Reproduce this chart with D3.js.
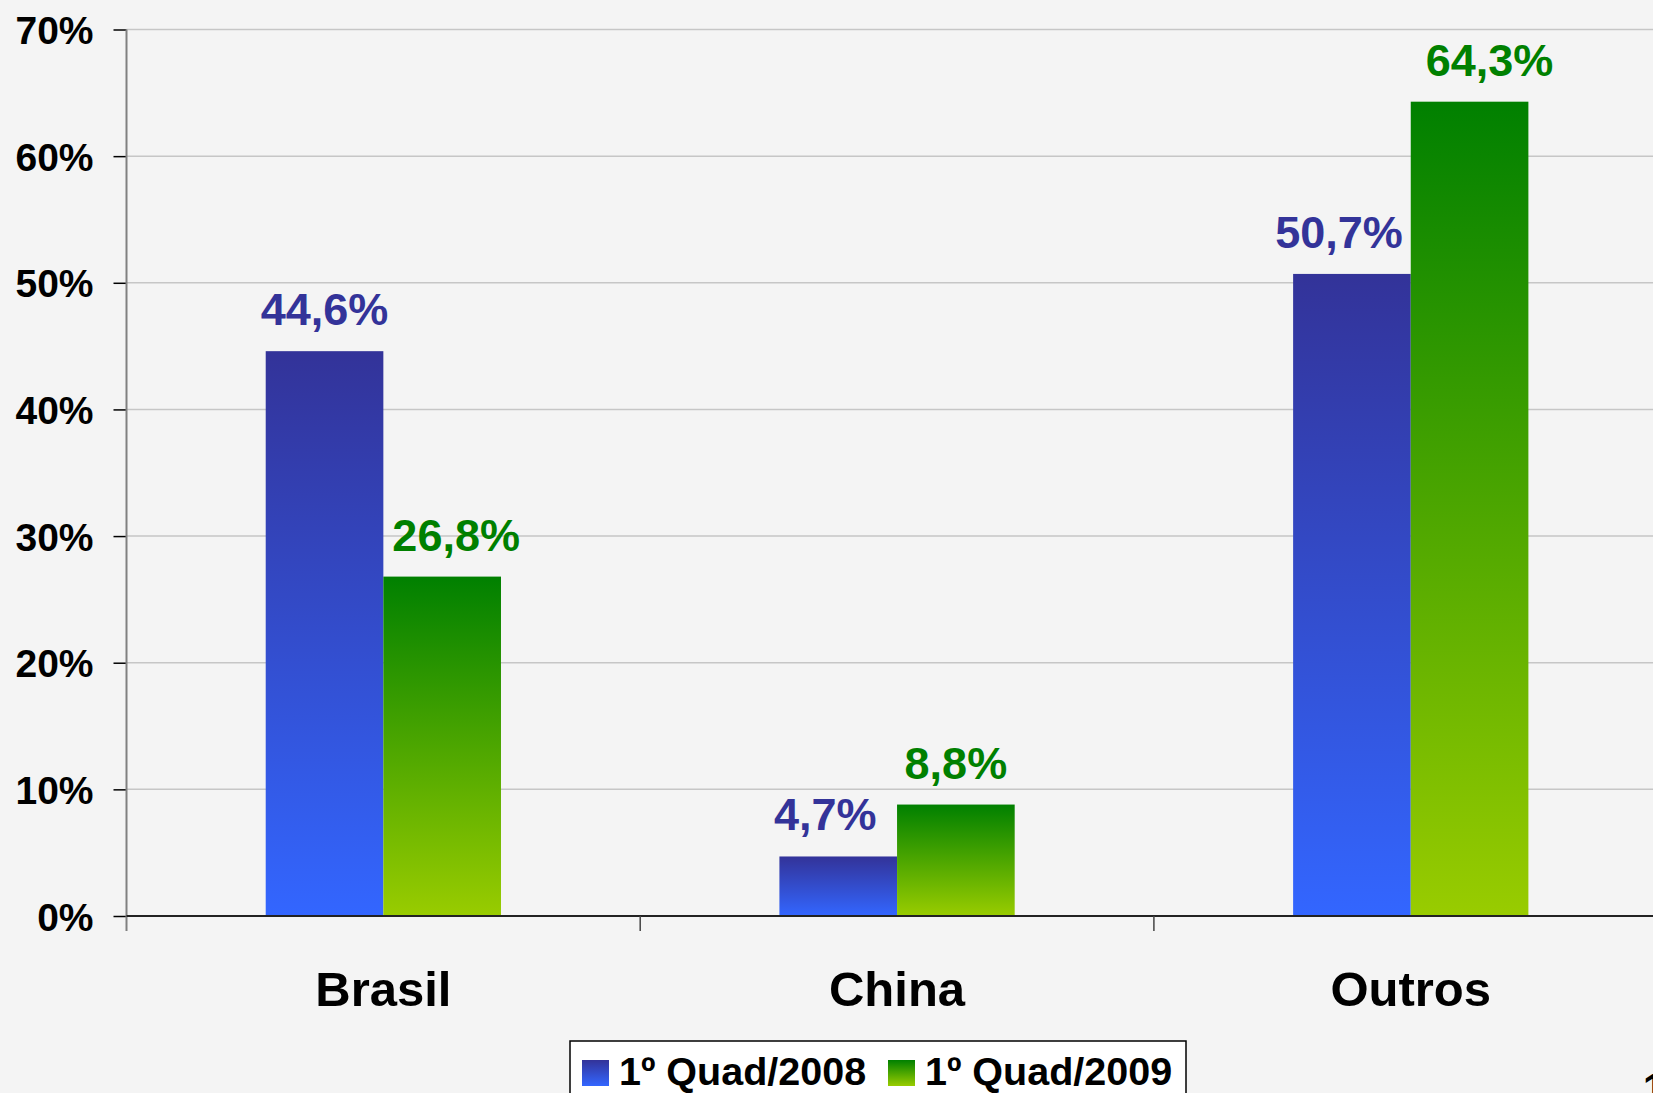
<!DOCTYPE html>
<html>
<head>
<meta charset="utf-8">
<script src="https://cdn.jsdelivr.net/npm/d3@7/dist/d3.min.js"></script>
<style>
  html, body { margin: 0; padding: 0; background: #f4f4f4; overflow: hidden; }
  svg { display: block; }
  text { font-family: "Liberation Sans", Arial, sans-serif; font-weight: bold; }
</style>
</head>
<body>
<div id="chart"></div>
<script>
// Data
const categories = ["Brasil", "China", "Outros"];
const series = ["1º Quad/2008", "1º Quad/2009"];
const values2008 = [44.6, 4.7, 50.7];
const values2009 = [26.8, 8.8, 64.3];
const yTicks = [0, 10, 20, 30, 40, 50, 60, 70];

const width = 1653;
const height = 1093;

const svg = d3.select('#chart')
    .append('svg')
    .attr('width', width)
    .attr('height', height)
    .style('background-color', '#f4f4f4');

// Gradients, one per series (top dark -> bottom bright)
const defs = svg.append('defs');
const gradStops = [
    ['grad2008', '#333399', '#3366ff'],
    ['grad2009', '#008000', '#99cc00']
];
gradStops.forEach(([id, top, bottom]) => {
    const g = defs.append('linearGradient')
        .attr('id', id)
        .attr('x1', 0).attr('y1', 0)
        .attr('x2', 0).attr('y2', 1);
    g.append('stop').attr('offset', '0%').attr('stop-color', top);
    g.append('stop').attr('offset', '100%').attr('stop-color', bottom);
});
const fills = ['url(#grad2008)', 'url(#grad2009)'];
const labelColors = ['#333399', '#008000'];

// Scales
const plotLeft = 126.5;
const plotTop = 29.5;
const plotBottom = 916;
const step = 513.7;

const x0 = d3.scaleBand()
    .domain(categories)
    .range([plotLeft, plotLeft + step * categories.length])
    .padding(0);

const groupW = x0.bandwidth() * 0.458;
const x1 = d3.scaleBand()
    .domain(series)
    .range([(x0.bandwidth() - groupW) / 2, (x0.bandwidth() + groupW) / 2])
    .padding(0);

const y = d3.scaleLinear()
    .domain([0, 70])
    .range([plotBottom, plotTop]);

const fmt = d3.formatLocale({decimal: ",", thousands: ".", grouping: [3], currency: ["R$", ""]}).format(".1f");

// Gridlines
svg.append('g')
    .selectAll('line')
    .data(yTicks.filter(d => d > 0))
    .enter()
    .append('line')
    .attr('x1', plotLeft)
    .attr('x2', width)
    .attr('y1', d => y(d))
    .attr('y2', d => y(d))
    .style('stroke', '#c6c6c6')
    .style('stroke-width', 1.5);

// Y axis
const yAxis = svg.append('g')
    .attr('transform', `translate(${plotLeft},0)`)
    .call(d3.axisLeft(y).tickValues(yTicks).tickSize(13).tickPadding(20).tickFormat(d => d + '%'));
yAxis.select('.domain').remove();
yAxis.selectAll('.tick line').style('stroke', '#000').style('stroke-width', 1.5);
yAxis.selectAll('.tick text')
    .style('font-size', '39px')
    .style('fill', '#000')
    .attr('dy', '0.36em');

svg.append('line')
    .attr('x1', plotLeft).attr('x2', plotLeft)
    .attr('y1', plotTop).attr('y2', plotBottom + 15)
    .style('stroke', '#808080')
    .style('stroke-width', 2);

// Bars
const barData = [];
categories.forEach((c, i) => {
    barData.push({cat: c, s: 0, v: values2008[i], other: values2009[i]});
    barData.push({cat: c, s: 1, v: values2009[i], other: values2008[i]});
});

svg.append('g')
    .selectAll('rect')
    .data(barData)
    .enter()
    .append('rect')
    .attr('x', d => x0(d.cat) + x1(series[d.s]))
    .attr('width', x1.bandwidth())
    .attr('y', d => y(d.v))
    .attr('height', d => y(0) - y(d.v))
    .style('fill', d => fills[d.s]);

// Value labels - nudged away from a taller neighbour bar so they don't touch it
function labelShift(d) {
    if (d.other > d.v) return d.s === 0 ? -13 : 14;
    if (d.s === 1 && d.v > 60) return 20;
    return 0;
}

svg.append('g')
    .selectAll('text')
    .data(barData)
    .enter()
    .append('text')
    .attr('x', d => x0(d.cat) + x1(series[d.s]) + x1.bandwidth() / 2 + labelShift(d))
    .attr('y', d => y(d.v) - 26)
    .attr('text-anchor', 'middle')
    .style('font-size', '45px')
    .style('fill', d => labelColors[d.s])
    .text(d => fmt(d.v) + '%');

// X axis line and category ticks
svg.append('line')
    .attr('x1', plotLeft).attr('x2', width)
    .attr('y1', y(0)).attr('y2', y(0))
    .style('stroke', '#222')
    .style('stroke-width', 2);

svg.append('g')
    .selectAll('line')
    .data(categories.slice(1))
    .enter()
    .append('line')
    .attr('x1', d => x0(d)).attr('x2', d => x0(d))
    .attr('y1', y(0)).attr('y2', y(0) + 15)
    .style('stroke', '#444')
    .style('stroke-width', 1.5);

// Category labels
svg.append('g')
    .selectAll('text')
    .data(categories)
    .enter()
    .append('text')
    .attr('x', d => x0(d) + x0.bandwidth() / 2)
    .attr('y', 1006)
    .attr('text-anchor', 'middle')
    .style('font-size', '49px')
    .style('fill', '#000')
    .text(d => d);

// Legend
const legend = svg.append('g');
legend.append('rect')
    .attr('x', 570).attr('y', 1041)
    .attr('width', 616).attr('height', 80)
    .style('fill', '#fff')
    .style('stroke', '#000')
    .style('stroke-width', 1.5);

const legendX = [582, 888];
series.forEach((s, i) => {
    legend.append('rect')
        .attr('x', legendX[i]).attr('y', 1060)
        .attr('width', 27).attr('height', 26)
        .style('fill', fills[i]);
    legend.append('text')
        .attr('x', legendX[i] + 37)
        .attr('y', 1085)
        .style('font-size', '39.5px')
        .style('fill', '#000')
        .text(s);
});

// Slide number (cut off at the edge, as on the slide)
svg.append('text')
    .attr('x', 1643)
    .attr('y', 1102)
    .style('font-size', '40px')
    .style('fill', '#000')
    .text('1');
</script>
</body>
</html>
